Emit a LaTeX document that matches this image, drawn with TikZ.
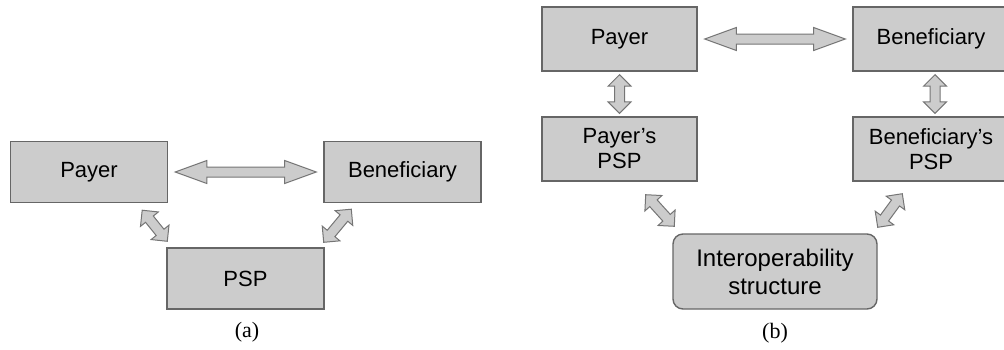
\documentclass[tikz,border=0pt]{standalone}
\usepackage{fontspec}
\setmainfont{Liberation Serif}
\setsansfont{Liberation Sans}
\usepackage{tikz}
\usetikzlibrary{positioning,calc,shapes.arrows}
\definecolor{boxfill}{HTML}{CCCCCC}
\definecolor{boxline}{HTML}{666666}

\tikzset{
  box/.style={draw=boxline,fill=boxfill,line width=1.4pt,minimum width=157pt,minimum height=61pt,
    inner sep=0pt,align=center,font=\sffamily\fontsize{22}{25}\selectfont},
  twoarrow/.style={double arrow,draw=boxline!90,fill=boxfill,line width=1pt,inner xsep=0pt,inner ysep=4.5pt,
    minimum width=22pt,double arrow head extend=6.5pt,double arrow tip angle=90},
  caption/.style={font=\rmfamily\fontsize{22}{24}\selectfont}
}
% fat two-headed arrow between two named points
\newcommand\linkarrow[3][]{\path let \p1=($(#3)-(#2)$),\n1={veclen(\x1,\y1)} in
  (#2) -- (#3) node[midway,sloped,twoarrow,minimum height=\n1,#1] {};}

\begin{document}
\begin{tikzpicture}[x=1pt,y=-1pt]
\useasboundingbox (0,0) rectangle (1004,349);
% (a)
\node[box] (payerA) at (89,172) {Payer};
\node[box] (benefA) at (402.5,172) {Beneficiary};
\node[box] (pspA) at (245.5,278.5) {PSP};
\node[caption] (capA) at (247,332) {(a)};
\coordinate (ha1) at ($(payerA.east)+(7,0)$);
\coordinate (ha2) at ($(benefA.west)+(-7,0)$);
\coordinate (la1) at ($(payerA.south east)+(-26,7)$);
\coordinate (la2) at ($(pspA.north west)+(1,-6)$);
\coordinate (ra1) at ($(benefA.south west)+(28,6)$);
\coordinate (ra2) at ($(pspA.north east)+(-1,-5)$);
\linkarrow[double arrow tip angle=40]{ha1}{ha2}
\linkarrow{la1}{la2}
\linkarrow{ra1}{ra2}
% (b)
\node[box,minimum width=155pt,minimum height=64pt] (payerB) at (619.5,39) {Payer};
\node[box,minimum width=156pt,minimum height=64pt] (benefB) at (931,39) {Beneficiary};
\node[box,minimum width=155pt,minimum height=64pt] (payerpspB) at (619.5,149) {Payer’s\\PSP};
\node[box,minimum width=156pt,minimum height=64pt] (benefpspB) at (931,149) {Beneficiary’s\\PSP};
\node[box,rounded corners=10pt,minimum width=204pt,minimum height=75pt,
  font=\sffamily\fontsize{24}{28}\selectfont] (interop) at (775,271.5) {Interoperability\\structure};
\node[caption] (capB) at (775,333) {(b)};
\coordinate (hb1) at ($(payerB.east)+(7,0)$);
\coordinate (hb2) at ($(benefB.west)+(-7,0)$);
\coordinate (vl1) at ($(payerB.south)+(0,3)$);
\coordinate (vl2) at ($(payerpspB.north)+(0,-3)$);
\coordinate (vr1) at ($(benefB.south)+(4,3)$);
\coordinate (vr2) at ($(benefpspB.north)+(4,-3)$);
\coordinate (lb1) at ($(payerpspB.south east)+(-52,13)$);
\coordinate (lb2) at ($(interop.north west)+(2,-7)$);
\coordinate (rb1) at ($(benefpspB.south west)+(50,12)$);
\coordinate (rb2) at ($(interop.north east)+(0,-6)$);
\linkarrow[double arrow tip angle=40]{hb1}{hb2}
\linkarrow{vl1}{vl2}
\linkarrow{vr1}{vr2}
\linkarrow{lb1}{lb2}
\linkarrow{rb1}{rb2}
\end{tikzpicture}
\end{document}
